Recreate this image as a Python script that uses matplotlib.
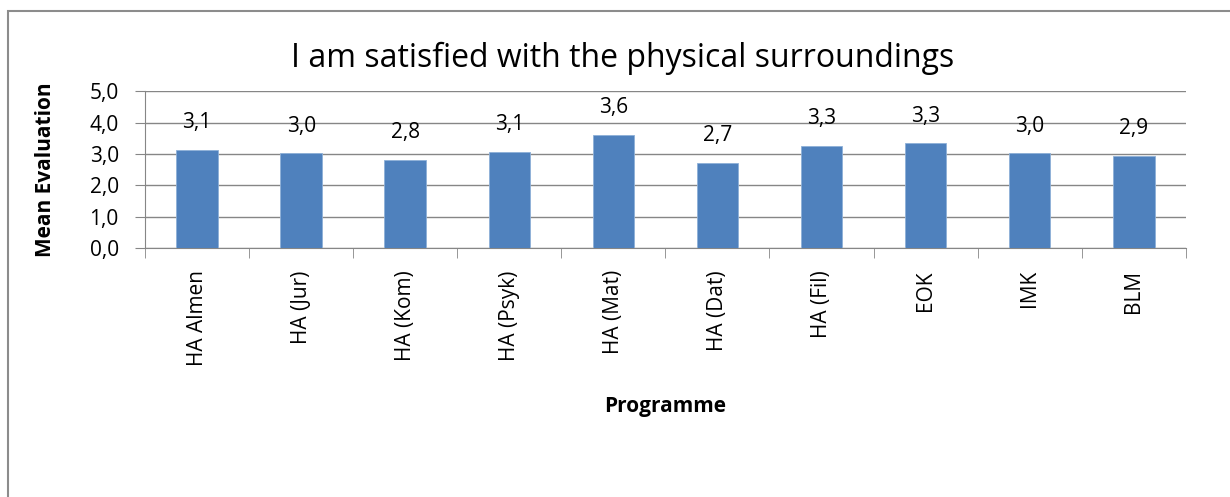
import matplotlib.pyplot as plt
from matplotlib.patches import Rectangle

programmes = ["HA Almen", "HA (Jur)", "HA (Kom)", "HA (Psyk)", "HA (Mat)",
              "HA (Dat)", "HA (Fil)", "EOK", "IMK", "BLM"]
means = [3.14, 3.02, 2.82, 3.08, 3.61, 2.71, 3.27, 3.34, 3.02, 2.94]
yticks = [0, 1, 2, 3, 4, 5]

plt.rcParams['font.family'] = ['Open Sans', 'DejaVu Sans']

fig = plt.figure(figsize=(12.3, 4.97), dpi=100)
# chart border, only left and top edges fall inside the image
fig.patches.append(Rectangle((8 / 1230, -0.1), 1.2, 1 - 11 / 497 + 0.1, transform=fig.transFigure,
                             fill=False, edgecolor="#8c8c8c", linewidth=1.5))

ax = fig.add_axes([0.118, 0.501, 0.846, 0.315])
x = range(len(programmes))
ax.bar(x, means, width=0.4, color="#4f81bd", edgecolor="#8eb0d8", linewidth=0.6, zorder=3)

for i, v in enumerate(means):
    ax.annotate(f"{v:.1f}".replace(".", ","), (i, v), xytext=(0, 12),
                textcoords="offset points", ha="center", va="bottom", fontsize=15)

ax.set_xlim(-0.5, len(programmes) - 0.5)
ax.set_ylim(0, 5)
ax.set_yticks(yticks)
ax.set_yticklabels([f"{t:.1f}".replace(".", ",") for t in yticks], fontsize=15)
ax.set_xticks(list(x))
ax.set_xticklabels(programmes, rotation=90, fontsize=15)
ax.tick_params(axis="x", length=0, pad=16)
ax.set_xticks([i - 0.5 for i in range(len(programmes) + 1)], minor=True)
ax.tick_params(axis="x", which="minor", length=7, color="#868686")
ax.tick_params(axis="y", length=7, color="#868686", pad=12)

ax.grid(axis="y", color="#868686", linewidth=1, zorder=0)
for s in ["top", "right"]:
    ax.spines[s].set_visible(False)
for s in ["left", "bottom"]:
    ax.spines[s].set_color("#868686")

fig.text(623 / 1230, 1 - 58 / 497, "I am satisfied with the physical surroundings",
         fontsize=23, ha="center", va="center")
ax.set_ylabel("Mean Evaluation", fontsize=15, fontweight="bold")
ax.yaxis.set_label_coords(-0.096, 0.5)
ax.yaxis.label.set_va("center")
ax.set_xlabel("Programme", fontsize=15, fontweight="bold")
ax.xaxis.set_label_coords(0.5, -1.01)
ax.xaxis.label.set_va("center")

plt.savefig("out.png", dpi=100)
